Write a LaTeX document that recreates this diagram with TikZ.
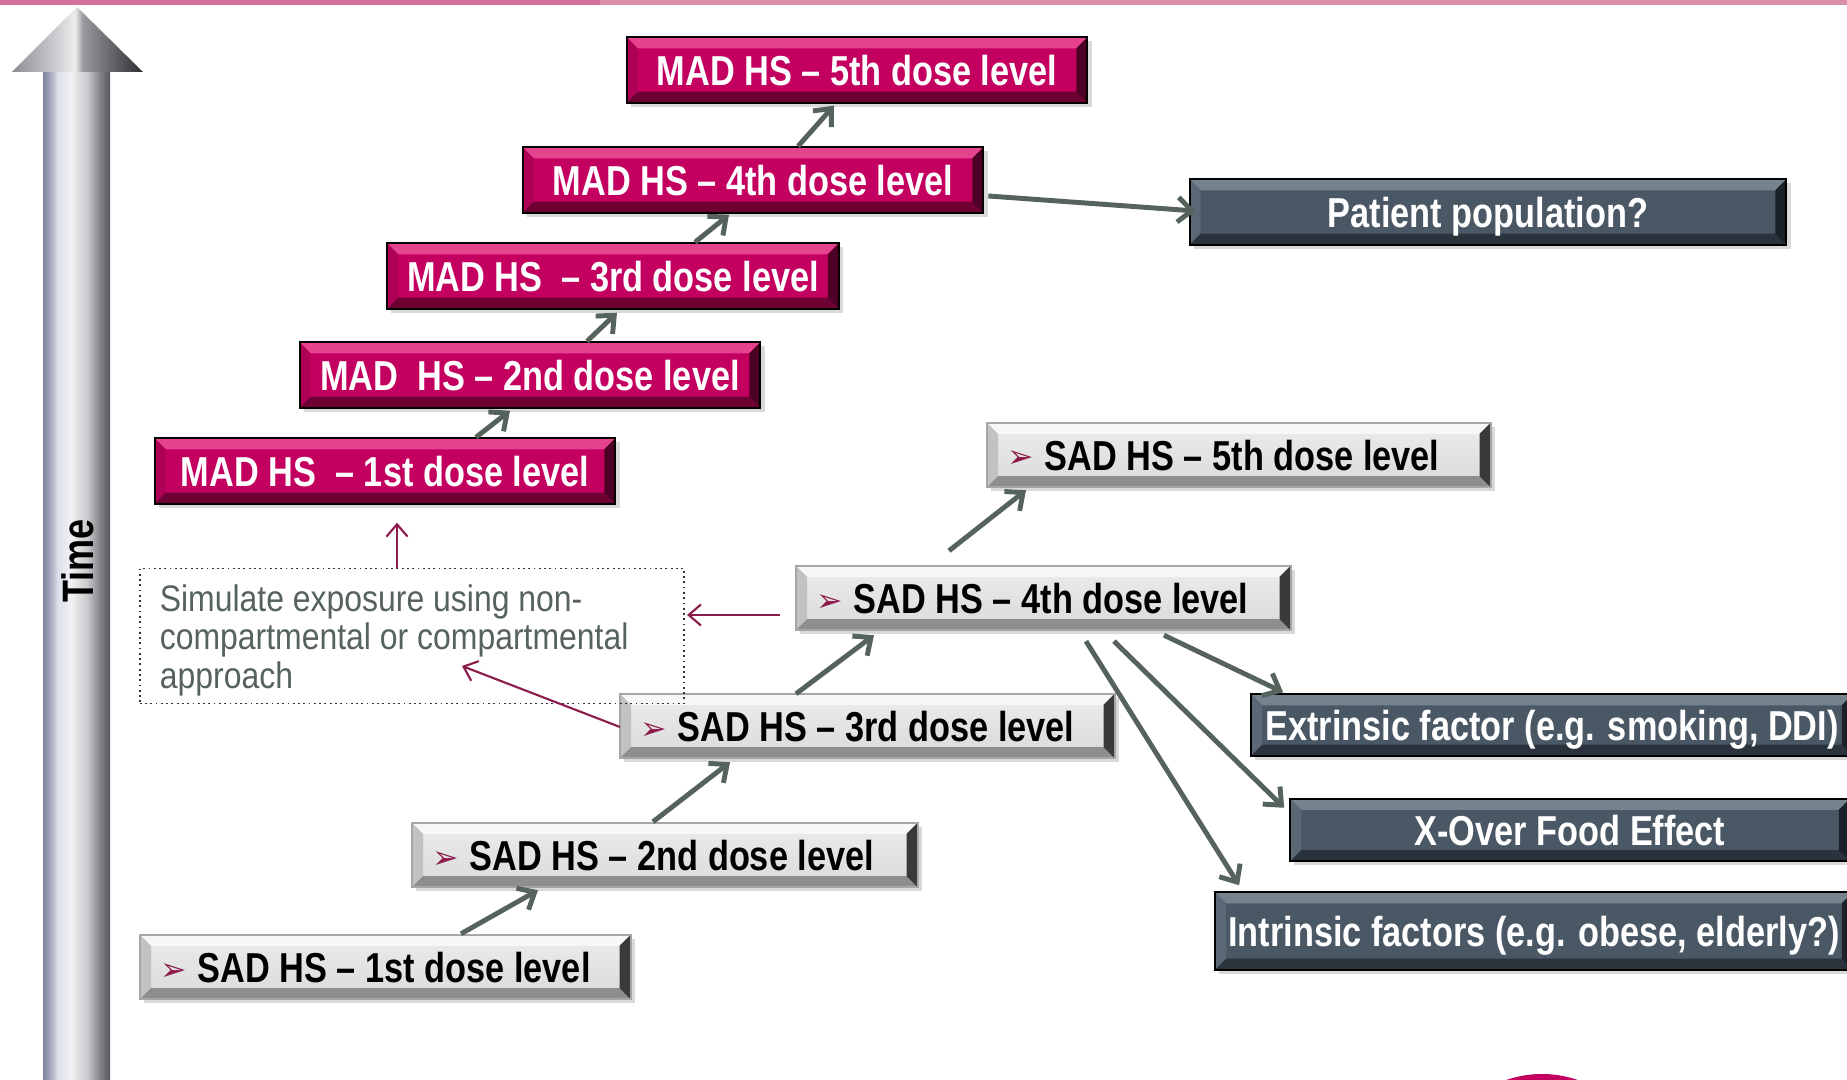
\documentclass[tikz,border=0pt]{standalone}
\usepackage{fontspec}
\setmainfont{Liberation Sans}
\newfontfamily\boxfont[FakeStretch=0.82]{Liberation Sans}
\newfontfamily\notefont[FakeStretch=0.865]{Liberation Sans}
\newfontfamily\symfont{DejaVu Sans}
\usetikzlibrary{arrows.meta,calc,shadows,backgrounds}

\definecolor{madface}{HTML}{C3005F}
\definecolor{madtop}{HTML}{E6438F}
\definecolor{madleft}{HTML}{AE0054}
\definecolor{madbottom}{HTML}{6E0034}
\definecolor{madright}{HTML}{4C0024}
\definecolor{sadhigh}{HTML}{ECECEC}
\definecolor{sadlow}{HTML}{DADADA}
\definecolor{sadtop}{HTML}{F7F7F7}
\definecolor{sadleft}{HTML}{C2C2C2}
\definecolor{sadbottom}{HTML}{8E8E8E}
\definecolor{sadright}{HTML}{3A3A3A}
\definecolor{slateface}{HTML}{4A5866}
\definecolor{slatetop}{HTML}{75838F}
\definecolor{slateleft}{HTML}{5B6976}
\definecolor{slatebottom}{HTML}{2A333C}
\definecolor{slateright}{HTML}{1B2128}
\definecolor{linkgray}{HTML}{56625C}
\definecolor{notemaroon}{HTML}{8C1A4B}
\definecolor{notetext}{HTML}{56625C}
\definecolor{barleft}{HTML}{D4709A}
\definecolor{barright}{HTML}{DA8EAA}
\definecolor{shaftA}{HTML}{7F8499}
\definecolor{shaftB}{HTML}{A2A7BB}
\definecolor{shaftC}{HTML}{DCE0EA}
\definecolor{shaftD}{HTML}{F2F2F4}
\definecolor{shaftE}{HTML}{CACACE}
\definecolor{shaftF}{HTML}{7E8084}
\definecolor{shaftG}{HTML}{55575B}
\definecolor{headA}{HTML}{8E8E92}
\definecolor{headB}{HTML}{C6C6CA}
\definecolor{headC}{HTML}{EDEDEF}
\definecolor{headD}{HTML}{9A9A9E}
\definecolor{headE}{HTML}{2E2E32}

% metal look of the time arrow
\pgfdeclarehorizontalshading{metalshaft}{100bp}{%
  color(0bp)=(shaftA); color(25bp)=(shaftA); color(30bp)=(shaftB);
  color(36bp)=(shaftC); color(46bp)=(shaftD); color(58bp)=(shaftE);
  color(68bp)=(shaftF); color(75bp)=(shaftG); color(100bp)=(shaftG)}
\pgfdeclarehorizontalshading{metalhead}{100bp}{%
  color(0bp)=(headA); color(25bp)=(headA); color(40bp)=(headB);
  color(49bp)=(headC); color(52bp)=(headD); color(75bp)=(headE);
  color(100bp)=(headE)}

% face, top, left, bottom, right, border
\newcommand{\bevelbox}[7]{%
  \begin{pgfonlayer}{background}
    \path[#2, drop shadow={opacity=0.3, shadow xshift=1.2pt, shadow yshift=-1.2pt}]
      (#1.north west) rectangle (#1.south east);
    \fill[#3] (#1.north west) -- (#1.north east) -- ($(#1.north east)+(-11,11)$)
      -- ($(#1.north west)+(11,11)$) -- cycle;
    \fill[#4] (#1.north west) -- ($(#1.north west)+(11,11)$)
      -- ($(#1.south west)+(11,-11)$) -- (#1.south west) -- cycle;
    \fill[#5] (#1.south west) -- ($(#1.south west)+(11,-11)$)
      -- ($(#1.south east)+(-11,-11)$) -- (#1.south east) -- cycle;
    \fill[#6] (#1.north east) -- (#1.south east) -- ($(#1.south east)+(-11,-11)$)
      -- ($(#1.north east)+(-11,11)$) -- cycle;
    \draw[#7, line width=0.6pt] (#1.north west) rectangle (#1.south east);
  \end{pgfonlayer}}

\newcommand{\sadlabel}[2][4.55cm]{%
  \makebox[#1][l]{\makebox[0.37cm][l]{\raisebox{0.6pt}{\symfont\fontsize{9}{9}\selectfont\color{notemaroon}➢}}#2}}

\begin{document}
\begin{tikzpicture}[x=0.01cm, y=-0.01cm,
  madbox/.style={text=white, font=\boxfont\bfseries\fontsize{11.9}{14}\selectfont,
    minimum width=4.59cm, minimum height=0.64cm, inner sep=0pt,
    text height=8.6pt, text depth=0pt},
  sadbox/.style={anchor=west, text=black, font=\boxfont\bfseries\fontsize{11.9}{14}\selectfont,
    inner xsep=0.2cm, inner ysep=0pt, minimum height=0.63cm,
    text height=8.6pt, text depth=0pt},
  factorbox/.style={text=white, font=\boxfont\bfseries\fontsize{11.9}{14}\selectfont,
    inner sep=0pt, text height=8.6pt, text depth=0pt},
  notebox/.style={draw=black!80, densely dotted, line width=0.5pt, text=notetext,
    font=\notefont\fontsize{10.5}{11}\selectfont, text width=5.04cm, inner xsep=0.2cm,
    inner ysep=0pt, minimum height=1.35cm, text height=10pt, text depth=24.2pt,
    align=flush left},
  linkarrow/.style={draw=linkgray, line width=1.4pt, -{Straight Barb[length=4pt,width=7pt]}},
  notearrow/.style={draw=notemaroon, line width=0.6pt, -{Straight Barb[length=3.5pt,width=6pt]}},
  ]

\useasboundingbox (0,0) rectangle (1847,1080);
\clip (0,0) rectangle (1847,1080);

% top bar and the corner of the round mark
\fill[barleft] (0,0) rectangle (600,5);
\fill[barright] (600,0) rectangle (1847,5);
\fill[madface] (1542,1182) circle (108);

% time axis
\shade[shading=metalshaft] (43,70) rectangle (110,1080);
\shade[shading=metalhead] (12,72) -- (77,7) -- (143,72) -- cycle;
\node[rotate=90, font=\boxfont\bfseries\fontsize{12.5}{14}\selectfont] (time) at (78,561) {Time};

% multiple ascending dose
\node[madbox] (mad1) at (385,471) {MAD HS~~– 1st dose level};
\node[madbox] (mad2) at (530,375) {MAD~~HS – 2nd dose level};
\node[madbox, minimum width=4.50cm] (mad3) at (613,276) {MAD HS~~– 3rd dose level};
\node[madbox] (mad4) at (753,180) {MAD HS – 4th dose level};
\node[madbox] (mad5) at (857,70) {MAD HS – 5th dose level};

% single ascending dose
\node[sadbox] (sad1) at (140,967) {\sadlabel[4.49cm]{SAD HS – 1st dose level}};
\node[sadbox] (sad2) at (412,855) {\sadlabel[4.64cm]{SAD HS – 2nd dose level}};
\node[sadbox] (sad3) at (620,726) {\sadlabel[4.53cm]{SAD HS – 3rd dose level}};
\node[sadbox] (sad4) at (796,598) {\sadlabel[4.53cm]{SAD HS – 4th dose level}};
\node[sadbox] (sad5) at (987,455) {\sadlabel[4.62cm]{SAD HS – 5th dose level}};

% follow-up studies
\node[factorbox, minimum width=5.95cm, minimum height=0.64cm] (patient) at (1488,212) {Patient population?};
\node[factorbox, minimum width=6.00cm, minimum height=0.60cm] (extr) at (1552,725) {Extrinsic factor (e.g. smoking, DDI)};
\node[factorbox, minimum width=5.58cm, minimum height=0.61cm] (xover) at (1570,830) {X-Over Food Effect};
\node[factorbox, minimum width=6.36cm, minimum height=0.76cm] (intr) at (1534,931) {Intrinsic factors (e.g. obese, elderly?)};

\node[notebox] (sim) at (412,636) {Simulate exposure using non-\\compartmental or compartmental\\approach};

\foreach \n in {mad1,mad2,mad3,mad4,mad5}
  \bevelbox{\n}{fill=madface}{madtop}{madleft}{madbottom}{madright}{black};
\foreach \n in {sad1,sad2,sad3,sad4,sad5}
  \bevelbox{\n}{top color=sadhigh, bottom color=sadlow}{sadtop}{sadleft}{sadbottom}{sadright}{black!35};
\foreach \n in {patient,extr,xover,intr}
  \bevelbox{\n}{fill=slateface}{slatetop}{slateleft}{slatebottom}{slateright}{black};

% steps up
\draw[linkarrow] ($(mad1.north)+(91,-1)$) -- ($(mad2.south)+(-20,3)$);
\draw[linkarrow] ($(mad2.north)+(57,-1)$) -- ($(mad3.south)+(4,4)$);
\draw[linkarrow] ($(mad3.north)+(82,-1)$) -- ($(mad4.south)+(-24,2)$);
\draw[linkarrow] ($(mad4.north)+(45,-1)$) -- ($(mad5.south)+(-23,3)$);
\draw[linkarrow] ($(mad4.east)+(5,16)$) -- ($(patient.west)+(6,-1)$);

\draw[linkarrow] ($(sad1.north west)+(321,-1)$) -- ($(sad2.south west)+(126,3)$);
\draw[linkarrow] ($(sad2.north west)+(241,-1)$) -- ($(sad3.south west)+(110,4)$);
\draw[linkarrow] ($(sad3.north west)+(176,0)$) -- ($(sad4.south west)+(78,5)$);
\draw[linkarrow] ($(sad4.north west)+(153,-15)$) -- ($(sad5.south west)+(39,3)$);

\draw[linkarrow] ($(sad4.south west)+(368,5)$) -- ($(extr.north west)+(32,-2)$);
\draw[linkarrow] ($(sad4.south west)+(318,11)$) -- ($(xover.north west)+(-6,9)$);
\draw[linkarrow] ($(sad4.south west)+(290,11)$) -- ($(intr.north west)+(24,-7)$);

% simulation
\draw[notearrow] ($(sim.north)+(-15,0)$) -- ($(mad1.south)+(12,19)$);
\draw[notearrow] ($(sad4.west)+(-16,17)$) -- ($(sim.east)+(2,-21)$);
\draw[notearrow] ($(sad3.west)+(0,1)$) -- ($(sim.center)+(50,30)$);

\end{tikzpicture}
\end{document}
